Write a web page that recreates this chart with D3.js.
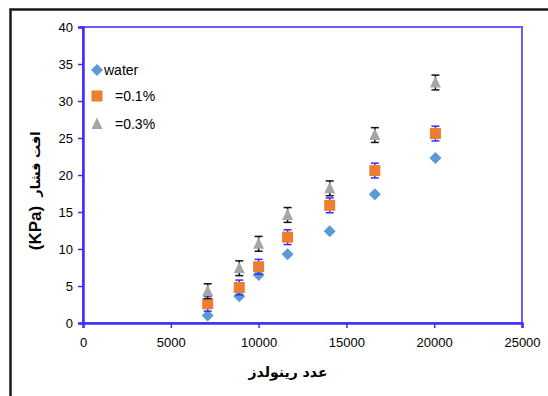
<!DOCTYPE html>
<html>
<head>
<meta charset="utf-8">
<script src="https://cdn.jsdelivr.net/npm/d3@7"></script>
<style>
  html, body { margin: 0; padding: 0; background: #fff; }
  svg { display: block; }
</style>
</head>
<body>
<svg id="chart" width="548" height="396"></svg>
<script>
// Reynolds numbers and pressure drop (kPa) for each fluid
const reynolds = [7100, 8900, 10000, 11650, 14050, 16620, 20070];
const water = [1.0, 3.6, 6.5, 9.3, 12.4, 17.4, 22.3];
const nf01 = [2.6, 4.8, 7.6, 11.6, 15.9, 20.6, 25.6];
const nf03 = [4.3, 7.4, 10.7, 14.6, 18.2, 25.4, 32.5];
const errNf01 = [1.0, 1.0, 1.0, 1.0, 1.0, 1.0, 1.0];
const errNf03 = [1.0, 1.0, 1.0, 1.0, 1.0, 1.0, 1.0];
const xTicks = [0, 5000, 10000, 15000, 20000, 25000];
const yTicks = [0, 5, 10, 15, 20, 25, 30, 35, 40];
const legendLabels = ["water", "=0.1%", "=0.3%"];

const svg = d3.select("#chart");
const plot = { left: 83, right: 522, top: 27, bottom: 323 };
const axisColor = "#3f2eff";

const x = d3.scaleLinear().domain([0, 25000]).range([plot.left, plot.right]);
const y = d3.scaleLinear().domain([0, 40]).range([plot.bottom, plot.top]);

// Outer frame
svg.append("rect")
  .attr("x", 10.5).attr("y", 9.5).attr("width", 560).attr("height", 420)
  .attr("fill", "none").attr("stroke", "#1a1a1a").attr("stroke-width", 2.5);

// Plot area border
svg.append("rect")
  .attr("x", plot.left).attr("y", plot.top)
  .attr("width", plot.right - plot.left).attr("height", plot.bottom - plot.top)
  .attr("fill", "none").attr("stroke", "#6a5cff").attr("stroke-width", 2);

// Axes
const xAxis = svg.append("g")
  .attr("transform", `translate(0,${plot.bottom})`)
  .call(d3.axisBottom(x).tickValues(xTicks).tickFormat(d3.format("d")).tickSize(5).tickPadding(10));
const yAxis = svg.append("g")
  .attr("transform", `translate(${plot.left},0)`)
  .call(d3.axisLeft(y).tickValues(yTicks).tickSize(5).tickPadding(5));

[xAxis, yAxis].forEach(g => {
  g.select(".domain").attr("stroke", axisColor).attr("stroke-width", 2.5);
  g.selectAll(".tick line").attr("stroke", axisColor).attr("stroke-width", 1.5);
  g.selectAll(".tick text")
    .attr("fill", "#000")
    .style("font-family", "'Liberation Sans', Arial, sans-serif")
    .style("font-size", "13px");
});

// Error bars
function errorBars(values, errs, color) {
  const g = svg.append("g").attr("stroke", color).attr("stroke-width", 1.5);
  values.forEach((v, i) => {
    const cx = x(reynolds[i]);
    const y1 = y(v + errs[i]), y2 = y(v - errs[i]);
    g.append("line").attr("x1", cx).attr("x2", cx).attr("y1", y1).attr("y2", y2);
    g.append("line").attr("x1", cx - 4).attr("x2", cx + 4).attr("y1", y1).attr("y2", y1);
    g.append("line").attr("x1", cx - 4).attr("x2", cx + 4).attr("y1", y2).attr("y2", y2);
  });
}

const diamond = "M0,-6L6,0L0,6L-6,0Z";
const square = "M-5.5,-5.5H5.5V5.5H-5.5Z";
const triangle = "M0,-6.5L5.5,5L-5.5,5Z";

function markers(values, path, color) {
  svg.append("g").selectAll("path")
    .data(values)
    .join("path")
    .attr("d", path)
    .attr("fill", color)
    .attr("transform", (d, i) => `translate(${x(reynolds[i])},${y(d)})`);
}

markers(water, diamond, "#5b9bd5");
errorBars(nf01, errNf01, "#3a2cff");
markers(nf01, square, "#ed7d31");
errorBars(nf03, errNf03, "#111");
markers(nf03, triangle, "#a5a5a5");

// Legend
const legend = svg.append("g")
  .style("font-family", "'Liberation Sans', Arial, sans-serif")
  .style("font-size", "14px");
const legendItems = [
  { path: diamond, color: "#5b9bd5", mx: 97, my: 70, tx: 104 },
  { path: square, color: "#ed7d31", mx: 97, my: 96, tx: 115 },
  { path: triangle, color: "#a5a5a5", mx: 97, my: 124, tx: 115 }
];
legendItems.forEach((it, i) => {
  legend.append("path").attr("d", it.path).attr("fill", it.color)
    .attr("transform", `translate(${it.mx},${it.my})`);
  legend.append("text").attr("x", it.tx).attr("y", it.my + 5).text(legendLabels[i]);
});

// X axis title
svg.append("text")
  .attr("x", 288).attr("y", 377)
  .attr("text-anchor", "middle")
  .style("font-family", "'DejaVu Sans', sans-serif")
  .style("font-weight", "bold")
  .style("font-size", "14px")
  .text("عدد رینولدز");

// Y axis title
const yTitle = svg.append("g").attr("transform", "translate(41,192) rotate(-90)");
yTitle.append("text")
  .attr("x", -36).attr("y", 0)
  .attr("text-anchor", "middle")
  .style("font-family", "'Liberation Sans', Arial, sans-serif")
  .style("font-weight", "bold")
  .style("font-size", "17px")
  .text("(KPa)");
yTitle.append("text")
  .attr("x", 28).attr("y", -1)
  .attr("text-anchor", "middle")
  .style("font-family", "'DejaVu Sans', sans-serif")
  .style("font-weight", "bold")
  .style("font-size", "13px")
  .text("افت فشار");
</script>
</body>
</html>
